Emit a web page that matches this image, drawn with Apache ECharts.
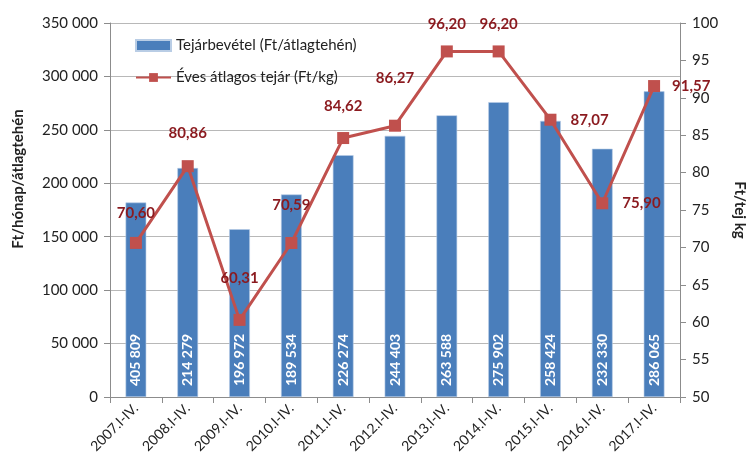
<!DOCTYPE html>
<html>
<head>
<meta charset="utf-8">
<script src="https://cdn.jsdelivr.net/npm/echarts@6/dist/echarts.min.js"></script>
<style>
  html, body { margin: 0; padding: 0; background: #fff; }
  #main { width: 755px; height: 470px; }
</style>
</head>
<body>
<div id="main"></div>
<script>
// adatok
var categories = ['2007.I-IV.', '2008.I-IV.', '2009.I-IV.', '2010.I-IV.', '2011.I-IV.', '2012.I-IV.',
  '2013.I-IV.', '2014.I-IV.', '2015.I-IV.', '2016.I-IV.', '2017.I-IV.'];
// oszlopmagasság a képről
var revenue = [182000, 214279, 157000, 189534, 226274, 244403, 263588, 275902, 258424, 232330, 286065];
// oszlopokon olvasható feliratok
var revenueLabels = ['405 809', '214 279', '196 972', '189 534', '226 274', '244 403',
  '263 588', '275 902', '258 424', '232 330', '286 065'];
var milkPrice = [70.60, 80.86, 60.31, 70.59, 84.62, 86.27, 96.20, 96.20, 87.07, 75.90, 91.57];

var fontFamily = 'Lato, "Open Sans", sans-serif';

// címkék elhelyezése pontonként
var labelPos = [
  { position: 'top', distance: 16 },
  { position: 'top', distance: 20 },
  { position: 'top', distance: 28 },
  { position: 'top', distance: 24 },
  { position: 'top', distance: 18 },
  { position: 'top', distance: 34 },
  { position: 'top', distance: 14 },
  { position: 'top', distance: 14 },
  { position: 'right', distance: 14 },
  { position: 'right', distance: 14 },
  { position: 'right', distance: 12 }
];

function fmt(v) {
  return String(v).replace(/\B(?=(\d{3})+(?!\d))/g, ' ');
}

var myChart = echarts.init(document.getElementById('main'));

var option = {
  animation: false,
  textStyle: { fontFamily: fontFamily },
  grid: { left: 110, right: 69, top: 23, bottom: 73, containLabel: false },
  legend: {
    orient: 'vertical',
    left: 130,
    top: 33,
    itemWidth: 35,
    itemHeight: 11,
    itemGap: 17,
    textStyle: { fontFamily: fontFamily, fontSize: 15, color: '#222' },
    data: [
      { name: 'Tejárbevétel (Ft/átlagtehén)', icon: 'rect' },
      { name: 'Éves átlagos tejár (Ft/kg)' }
    ]
  },
  xAxis: {
    type: 'category',
    data: categories,
    axisLine: { lineStyle: { color: '#8c8c8c' } },
    axisTick: { show: true, alignWithLabel: false, length: 6, lineStyle: { color: '#8c8c8c' } },
    axisLabel: { rotate: 45, fontSize: 14, color: '#222', margin: 9, interval: 0 }
  },
  yAxis: [
    {
      type: 'value',
      min: 0,
      max: 350000,
      interval: 50000,
      name: 'Ft/hónap/átlagtehén',
      nameLocation: 'middle',
      nameGap: 84,
      nameTextStyle: { fontSize: 15, fontWeight: 'bold', color: '#222', padding: [0, 0, 0, 62] },
      axisLine: { show: true, lineStyle: { color: '#8c8c8c' } },
      axisTick: { show: true, length: 6, lineStyle: { color: '#8c8c8c' } },
      axisLabel: { fontSize: 15, color: '#222', margin: 12, formatter: fmt },
      splitLine: { lineStyle: { color: '#b8b8b8' } }
    },
    {
      type: 'value',
      min: 50,
      max: 100,
      interval: 5,
      position: 'right',
      name: 'Ft/tej kg',
      nameLocation: 'middle',
      nameRotate: -90,
      nameGap: 52,
      nameTextStyle: { fontSize: 15, fontWeight: 'bold', color: '#222' },
      axisLine: { show: true, lineStyle: { color: '#8c8c8c' } },
      axisTick: { show: true, length: 6, lineStyle: { color: '#8c8c8c' } },
      axisLabel: { fontSize: 15, color: '#222', margin: 12 },
      splitLine: { show: false }
    }
  ],
  series: [
    {
      name: 'Tejárbevétel (Ft/átlagtehén)',
      type: 'bar',
      yAxisIndex: 0,
      barWidth: '40%',
      itemStyle: { color: '#4a7ebb', borderColor: '#b9cde5', borderWidth: 0.6 },
      label: {
        show: true,
        position: 'insideBottom',
        rotate: 90,
        align: 'left',
        verticalAlign: 'middle',
        distance: 11,
        color: '#fff',
        fontWeight: 'bold',
        fontSize: 14,
        fontFamily: fontFamily,
        formatter: function (p) { return revenueLabels[p.dataIndex]; }
      },
      data: revenue
    },
    {
      name: 'Éves átlagos tejár (Ft/kg)',
      type: 'line',
      yAxisIndex: 1,
      symbol: 'rect',
      symbolSize: 12,
      lineStyle: { color: '#c0504d', width: 3 },
      itemStyle: { color: '#c0504d' },
      label: {
        show: true,
        color: '#8b1a1f',
        fontWeight: 'bold',
        fontSize: 15,
        fontFamily: fontFamily,
        formatter: function (p) { return p.value.toFixed(2).replace('.', ','); }
      },
      data: milkPrice.map(function (v, i) {
        return { value: v, label: labelPos[i] };
      }),
      z: 5
    }
  ]
};

myChart.setOption(option);
</script>
</body>
</html>
